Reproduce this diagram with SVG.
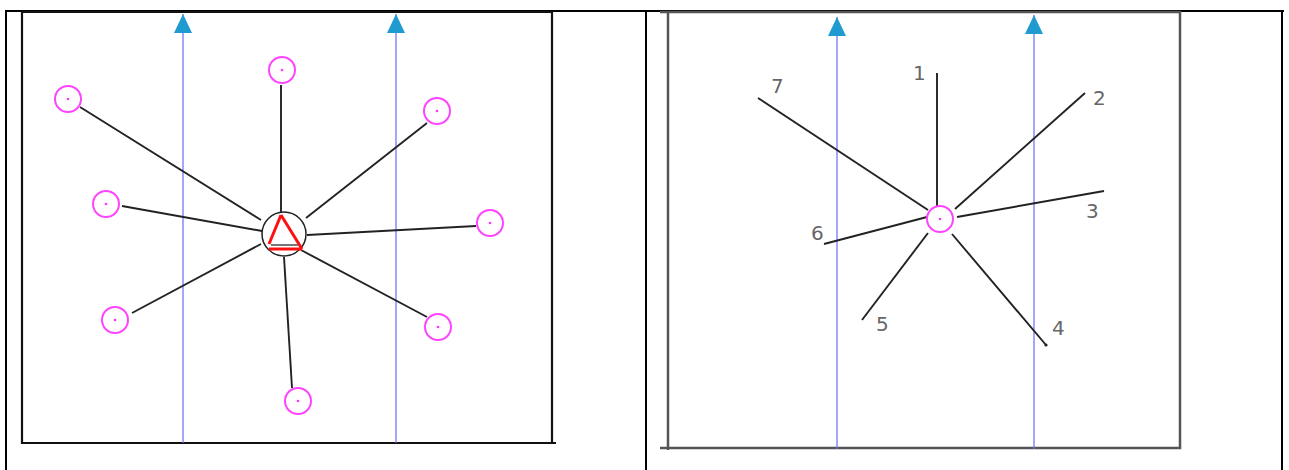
<svg xmlns="http://www.w3.org/2000/svg" width="1289" height="470" viewBox="0 0 1289 470">
<style>
.frame{fill:none;stroke:#000;stroke-width:2}
.boxL{fill:none;stroke:#111;stroke-width:2.2}
.boxR{fill:none;stroke:#555;stroke-width:2.5}
.flow{stroke:#6a6aff;stroke-width:1.2;fill:none}
.ring{fill:#fff;stroke:#ff44ff;stroke-width:2}
.dot{fill:#ff33ff}
.spoke{stroke:#222;stroke-width:1.9;fill:none}
.lbl{font-family:"DejaVu Sans","Liberation Sans",sans-serif;font-size:20px;fill:#666}
</style>
<defs>
<marker id="arr" markerUnits="userSpaceOnUse" viewBox="0 0 19 18" markerWidth="19" markerHeight="18" refX="19" refY="9" orient="auto">
<path d="M0,0 L19,9 L0,18 Z" fill="#1f9bd0"/>
</marker>
</defs>
<rect width="1289" height="470" fill="#fff"/>
<g id="table">
<line class="frame" x1="5" y1="11" x2="1284" y2="11"/>
<line class="frame" x1="6" y1="11" x2="6" y2="470"/>
<line class="frame" x1="646" y1="11" x2="646" y2="470"/>
<line class="frame" x1="1282" y1="11" x2="1282" y2="470"/>
</g>
<g id="left-panel">
<path class="boxL" d="M22,12 H552 V444 M22,12 V443 H556"/>
<line class="flow" x1="183" y1="443" x2="183" y2="14" marker-end="url(#arr)"/>
<line class="flow" x1="396" y1="443" x2="396" y2="14" marker-end="url(#arr)"/>
<g id="left-connectors">
<line class="spoke" x1="281" y1="85" x2="281" y2="213"/>
<line class="spoke" x1="80" y1="107" x2="261" y2="220"/>
<line class="spoke" x1="427" y1="123" x2="306" y2="218"/>
<line class="spoke" x1="122" y1="206" x2="262" y2="231"/>
<line class="spoke" x1="307" y1="235" x2="476" y2="226"/>
<line class="spoke" x1="132" y1="313" x2="261" y2="244"/>
<line class="spoke" x1="427" y1="317" x2="301" y2="250"/>
<line class="spoke" x1="292" y1="388" x2="284" y2="257"/>
</g>
<g id="hub">
<circle cx="284" cy="234" r="22" fill="#fff" stroke="#222" stroke-width="1.5"/>
<line x1="271" y1="245" x2="298" y2="245" stroke="#777" stroke-width="2"/>
<path d="M281,215 L269,244 M281,215 L302,249 M269,249 L302,249" stroke="#ff1010" stroke-width="3" fill="none"/>
</g>
<g id="n1"><circle class="ring" cx="282" cy="70" r="13"/><circle class="dot" cx="282" cy="70" r="1.3"/></g>
<g id="n2"><circle class="ring" cx="68" cy="99" r="13"/><circle class="dot" cx="68" cy="99" r="1.3"/></g>
<g id="n3"><circle class="ring" cx="437" cy="111" r="13"/><circle class="dot" cx="437" cy="111" r="1.3"/></g>
<g id="n4"><circle class="ring" cx="106" cy="204" r="13"/><circle class="dot" cx="106" cy="204" r="1.3"/></g>
<g id="n5"><circle class="ring" cx="490" cy="223" r="13"/><circle class="dot" cx="490" cy="223" r="1.3"/></g>
<g id="n6"><circle class="ring" cx="115" cy="320" r="13"/><circle class="dot" cx="115" cy="320" r="1.3"/></g>
<g id="n7"><circle class="ring" cx="438" cy="327" r="13"/><circle class="dot" cx="438" cy="327" r="1.3"/></g>
<g id="n8"><circle class="ring" cx="298" cy="401" r="13"/><circle class="dot" cx="298" cy="401" r="1.3"/></g>
</g>
<g id="right-panel">
<path class="boxR" d="M660,12 H1180 V448 H660 M668,12 V450"/>
<line class="flow" x1="837" y1="449" x2="837" y2="17" marker-end="url(#arr)"/>
<line class="flow" x1="1034" y1="449" x2="1034" y2="15" marker-end="url(#arr)"/>
<g id="right-connectors">
<line class="spoke" x1="937" y1="73" x2="937" y2="207"/>
<line class="spoke" x1="1085" y1="93" x2="955" y2="209"/>
<line class="spoke" x1="1104" y1="191" x2="957" y2="217"/>
<line class="spoke" x1="1046" y1="345" x2="952" y2="234"/>
<line class="spoke" x1="862" y1="320" x2="928" y2="233"/>
<line class="spoke" x1="824" y1="244" x2="927" y2="217"/>
<line class="spoke" x1="758" y1="98" x2="928" y2="210"/>
<circle cx="1046" cy="345" r="1.6" fill="#222"/>
</g>
<g id="center"><circle class="ring" cx="940" cy="219" r="13"/><circle class="dot" cx="940" cy="219" r="1.3"/></g>
<g id="labels">
<text class="lbl" x="913" y="80">1</text>
<text class="lbl" x="1093" y="105">2</text>
<text class="lbl" x="1086" y="218">3</text>
<text class="lbl" x="1052" y="335">4</text>
<text class="lbl" x="876" y="331">5</text>
<text class="lbl" x="811" y="240">6</text>
<text class="lbl" x="771" y="93">7</text>
</g>
</g>
</svg>
